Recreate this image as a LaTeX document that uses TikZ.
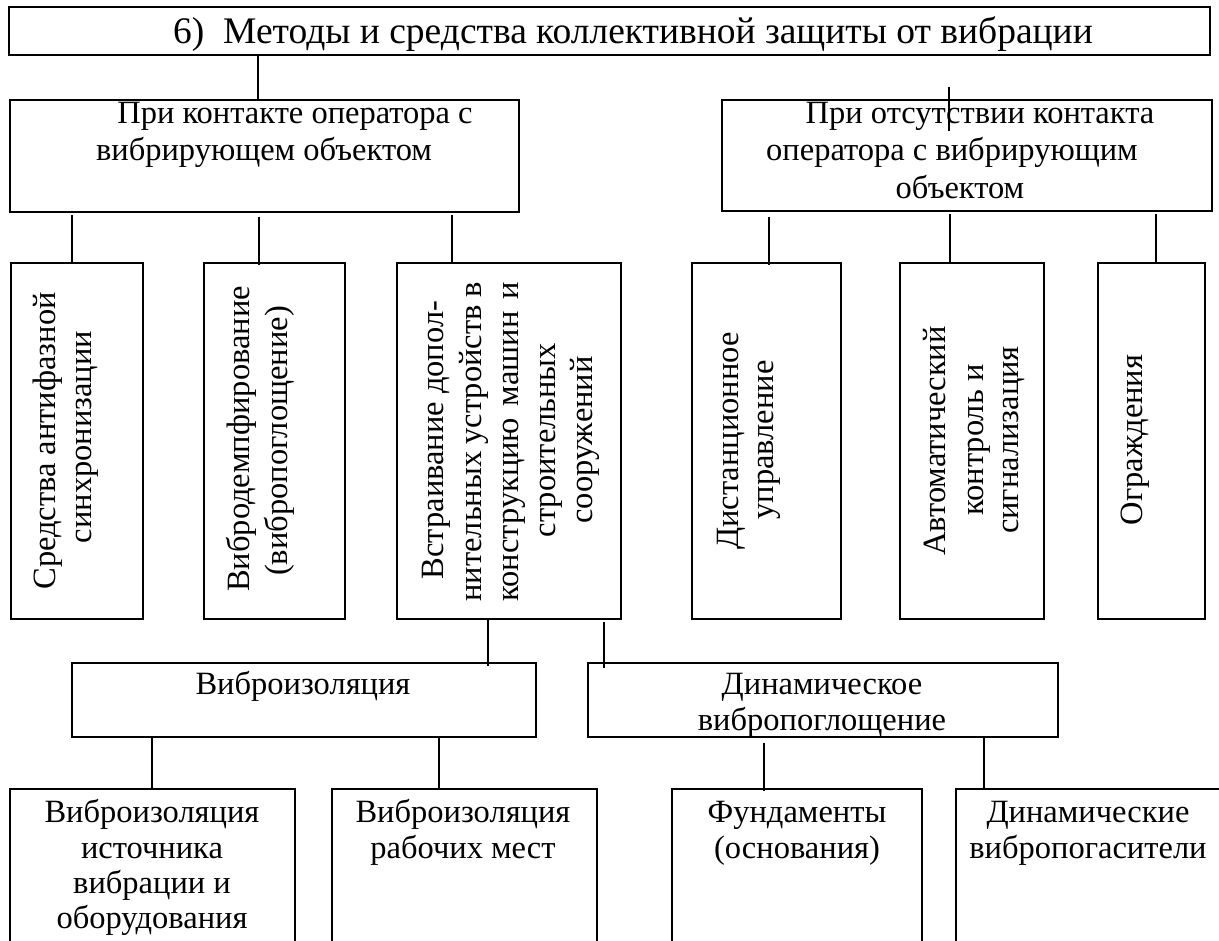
\documentclass[tikz,border=0pt]{standalone}
\usepackage{fontspec}
\setmainfont{Liberation Serif}
\begin{document}
\begin{tikzpicture}[x=1pt,y=-1pt,
  box/.style={draw, line width=2.7pt, inner sep=0pt, outer sep=0pt, anchor=north west},
  ln/.style={line width=2.7pt},
  t/.style={inner sep=0pt, anchor=base, font=\fontsize{32.5}{38}\selectfont},
  vt/.style={t, rotate=90},
  ttl/.style={inner sep=0pt, anchor=base west, font=\fontsize{37.5}{44}\selectfont}]
\useasboundingbox (0,0) rectangle (1219,941);
\clip (0,0) rectangle (1219,941);

% boxes
\node[box, minimum width=1201pt, minimum height=48pt] (T) at (9,7) {};
\node[box, minimum width=509pt, minimum height=112pt] (A) at (10,100) {};
\node[box, minimum width=490pt, minimum height=111pt] (B) at (722,100) {};
\node[box, minimum width=132pt, minimum height=356pt] (C1) at (11,263) {};
\node[box, minimum width=141pt, minimum height=356pt] (C2) at (204,263) {};
\node[box, minimum width=224pt, minimum height=356pt] (C3) at (397,263) {};
\node[box, minimum width=149pt, minimum height=356pt] (C4) at (692,263) {};
\node[box, minimum width=144pt, minimum height=356pt] (C5) at (900,263) {};
\node[box, minimum width=107pt, minimum height=356pt] (C6) at (1098,263) {};
\node[box, minimum width=464pt, minimum height=74pt] (D1) at (72,663) {};
\node[box, minimum width=470pt, minimum height=74pt] (D2) at (588,663) {};
\node[box, minimum width=285pt, minimum height=250pt] (E1) at (10,789) {};
\node[box, minimum width=265pt, minimum height=250pt] (E2) at (332,789) {};
\node[box, minimum width=250pt, minimum height=250pt] (E3) at (672,789) {};
\node[box, minimum width=350pt, minimum height=250pt] (E4) at (956,789) {};

% texts
\node[ttl] (Tt) at (173,44) {6)\ \ Методы и средства коллективной защиты от вибрации};

\node[t] (At1) at (295,124) {При контакте оператора с};
\node[t] (At2) at (264,161) {вибрирующем объектом};

\node[t] (Bt1) at (980,124) {При отсутствии контакта};
\node[t] (Bt2) at (952,161) {оператора с вибрирующим};
\node[t] (Bt3) at (960,199) {объектом};

\node[vt] (C1t1) at (55,441) {Средства антифазной};
\node[vt] (C1t2) at (91,437) {синхронизации};

\node[vt] (C2t1) at (249,439) {Вибродемпфирование};
\node[vt] (C2t2) at (287,441) {(вибропоглощение)};

\node[vt] (C3t1) at (443,440) {Встраивание допол-};
\node[vt] (C3t2) at (481,442) {\makebox[319pt][s]{нительных устройств в}};
\node[vt] (C3t3) at (518,442) {\makebox[319pt][s]{конструкцию машин и}};
\node[vt] (C3t4) at (555,440) {строительных};
\node[vt] (C3t5) at (592,440) {сооружений};

\node[vt] (C4t1) at (738,441) {Дистанционное};
\node[vt] (C4t2) at (773,440) {управление};

\node[vt] (C5t1) at (945,441) {Автоматический};
\node[vt] (C5t2) at (983,440) {контроль и};
\node[vt] (C5t3) at (1018,440) {сигнализация};

\node[vt] (C6t1) at (1142,440) {Ограждения};

\node[t] (D1t) at (303,694) {Виброизоляция};
\node[t] (D2t1) at (822,694) {Динамическое};
\node[t] (D2t2) at (822,730) {вибропоглощение};

\node[t] (E1t1) at (152,822) {Виброизоляция};
\node[t] (E1t2) at (152,858) {источника};
\node[t] (E1t3) at (152,893) {вибрации и};
\node[t] (E1t4) at (152,928) {оборудования};

\node[t] (E2t1) at (463,822) {Виброизоляция};
\node[t] (E2t2) at (463,858) {рабочих мест};

\node[t] (E3t1) at (797,822) {Фундаменты};
\node[t] (E3t2) at (797,858) {(основания)};

\node[t] (E4t1) at (1088,822) {Динамические};
\node[t] (E4t2) at (1088,858) {вибропогасители};

% connectors
\coordinate (b1) at (949,87);
\coordinate (b2) at (949,131);
\draw[ln] ([xshift=249pt]T.south west) -- ([xshift=248pt]A.north west);
\draw[ln] (b1) -- (b2);
\draw[ln] ([xshift=62pt,yshift=-3pt]A.south west) -- ([xshift=61pt]C1.north west);
\draw[ln] ([xshift=249pt,yshift=-5pt]A.south west) -- ([xshift=55pt,yshift=-2pt]C2.north west);
\draw[ln] ([xshift=442pt,yshift=-3pt]A.south west) -- ([xshift=55pt]C3.north west);
\draw[ln] ([xshift=47pt,yshift=-6pt]B.south west) -- ([xshift=77pt,yshift=-2pt]C4.north west);
\draw[ln] ([xshift=228pt,yshift=-3pt]B.south west) -- ([xshift=50pt]C5.north west);
\draw[ln] ([xshift=434pt,yshift=-3pt]B.south west) -- ([xshift=58pt]C6.north west);
\draw[ln] ([xshift=91pt]C3.south west) -- ([xshift=416pt,yshift=-3pt]D1.north west);
\draw[ln] ([xshift=207pt,yshift=-3pt]C3.south west) -- ([xshift=16pt,yshift=-5pt]D2.north west);
\draw[ln] ([xshift=80pt]D1.south west) -- ([xshift=142pt]E1.north west);
\draw[ln] ([xshift=367pt]D1.south west) -- ([xshift=107pt]E2.north west);
\draw[ln] ([xshift=176pt,yshift=-6pt]D2.south west) -- ([xshift=92pt,yshift=-2pt]E3.north west);
\draw[ln] ([xshift=396pt]D2.south west) -- ([xshift=28pt]E4.north west);
\end{tikzpicture}
\end{document}
